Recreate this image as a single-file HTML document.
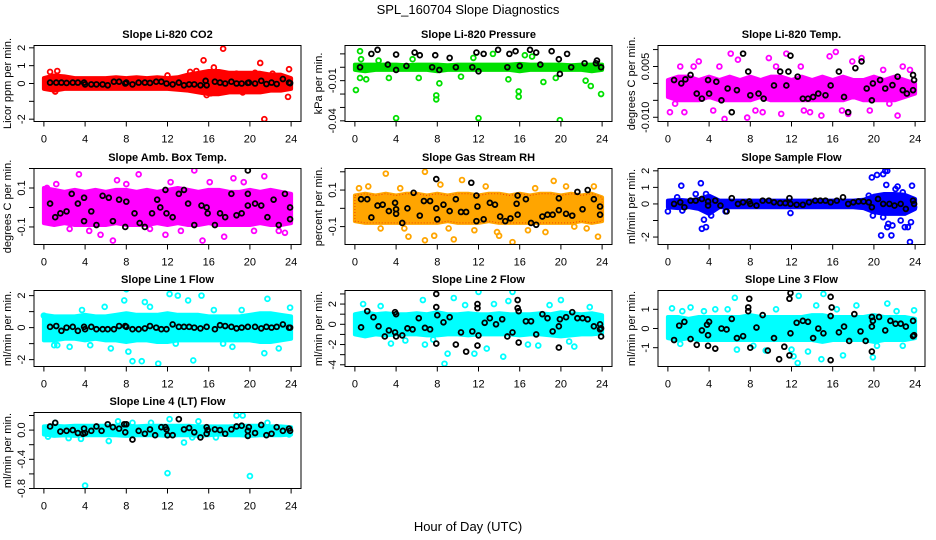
<!DOCTYPE html>
<html><head><meta charset="utf-8">
<style>
html,body{margin:0;padding:0;background:#fff;}
svg{display:block;font-family:"Liberation Sans",Arial,sans-serif;}
</style></head>
<body>
<svg id="chart" width="936" height="540" viewBox="0 0 936 540">
<text x="468" y="14" text-anchor="middle" font-size="13">SPL_160704  Slope Diagnostics</text>
<text x="468" y="531" text-anchor="middle" font-size="13">Hour of Day (UTC)</text>
</svg>
<script>
// ---------- data ----------
const hours = [0,1,2,3,4,5,6,7,8,9,10,11,12,13,14,15,16,17,18,19,20,21,22,23,24];
const xTicks = [0,4,8,12,16,20,24];

// P1 CO2
const co2BandHi = [0.3,0.45,0.4,0.3,0.3,0.3,0.3,0.35,0.3,0.35,0.3,0.35,0.3,0.35,0.5,0.6,0.7,0.7,0.6,0.6,0.6,0.6,0.5,0.5,0.3];
const co2BandLo = [-0.3,-0.4,-0.3,-0.3,-0.3,-0.3,-0.3,-0.3,-0.3,-0.3,-0.3,-0.3,-0.3,-0.35,-0.4,-0.5,-0.6,-0.6,-0.5,-0.5,-0.5,-0.5,-0.4,-0.4,-0.3];
const co2OutX = [0.6,1.3,15.5,16.5,17.4,21,21.4,23.8,23.7,15.8,1.1,12,14.2,14.8,18.7,20.5,22.2,16.2,19.3];
const co2OutY = [0.65,0.7,1.3,0.9,1.95,1.15,-2,0.8,-0.75,-0.65,-0.45,0.45,0.65,0.7,0.55,0.6,0.55,-0.55,-0.5];
const co2BlkX = [0.6,1.2,1.7,2.2,2.8,3.3,3.9,4,4.6,5.1,5.7,6.2,6.8,7.3,7.9,8,8.6,9.2,9.8,10.3,10.9,11.4,11.9,12.5,13.1,13.6,14.1,14.6,15.2,15.7,15.8,16.6,17.1,17.6,18.2,18.7,19.2,19.8,19.9,20.5,21.1,21.6,22.1,22.6,23.2,23.8,23.9];
const co2BlkY = [0.05,0.05,0.05,0.03,0.05,0.05,0.05,-0.05,-0.05,-0.05,-0.05,-0.1,0.1,0.1,0,0.05,-0.05,0.05,0.05,0.03,0.1,0.1,0,-0.05,0.05,-0.1,-0.05,-0.05,-0.1,0.15,-0.1,0.1,0.05,0,0.1,0,0,0.03,0.05,0,0.15,-0.03,0.05,-0.03,0.25,0.05,0.02];

// P2 Pressure
const prsBandHi = [0.002,0.002,0.002,0.002,0.002,0.0015,0.002,0.002,0.002,0.0015,0.002,0.002,0.002,0.002,0.002,0.002,0.0025,0.002,0.002,0.002,0.002,0.0015,0.002,0.002,0.002];
const prsBandLo = [-0.002,-0.003,-0.002,-0.002,-0.002,-0.002,-0.002,-0.002,-0.003,-0.002,-0.002,-0.002,-0.002,-0.002,-0.002,-0.002,-0.003,-0.002,-0.002,-0.002,-0.002,-0.002,-0.002,-0.003,-0.002];
const prsOutX = [0.1,0.5,4,7.9,7.9,12,15.9,15.9,19.9,22.9,23.9,0.5,8.2,18.3,13.4,16.5,1.1,3.3,6.2,10.3,14.9,19.5,22.4,0.6,2.3,5.6,11.5,17.2];
const prsOutY = [-0.017,0.012,-0.038,-0.021,-0.024,-0.038,-0.018,-0.022,-0.0395,-0.014,-0.02,-0.008,-0.012,-0.011,0.01,0.009,-0.009,-0.008,-0.008,-0.007,-0.009,-0.008,-0.01,0.006,0.005,0.006,0.007,0.008];
const prsBlkX = [1.6,2.2,4,5.8,6.3,7.8,9.2,11.8,12.5,13.9,15,15.6,17,17.6,19.1,19.8,20.6,23.5,0.5,3.2,4,5,7.5,8.2,9.8,11.4,12,14.8,16,18,19.9,21,22.3,23.4,23.9];
const prsBlkY = [0.01,0.013,0.0095,0.011,0.009,0.009,0.007,0.011,0.01,0.013,0.01,0.012,0.013,0.011,0.012,0.006,0.01,0.005,0,0.002,-0.002,0.001,0,-0.002,0,0,-0.003,0,0.001,0.002,-0.005,0,0.003,0.003,0];

// P3 Li-820 Temp
const tmpBandHi = [0.001,0.002,0.002,0.001,0.002,0.001,0.002,0.001,0.002,0.001,0.002,0.002,0.001,0.002,0.001,0.002,0.001,0.002,0.001,0.001,0.002,0.001,0.002,0.001,0.0];
const tmpBandLo = [-0.004,-0.005,-0.005,-0.005,-0.004,-0.005,-0.005,-0.005,-0.005,-0.004,-0.005,-0.005,-0.005,-0.005,-0.005,-0.005,-0.005,-0.005,-0.004,-0.005,-0.005,-0.005,-0.005,-0.004,-0.003];
const tmpOutX = [0.2,1.6,3,5.5,6.1,7.7,9.8,11.5,16.3,18.8,14.9,22.3,17.5,1.2,2.5,4.4,6.8,8.5,10.5,12.9,13.8,15.7,17.9,19.6,20.9,22.8,23.5,0.7,5,9.2,11,13.2,16.9,21.5];
const tmpOutY = [-0.0085,-0.0085,0.0065,-0.0105,0.0088,-0.0101,0.0075,0.0088,0.0093,0.0075,-0.0095,-0.0095,-0.009,0.005,0.005,-0.008,0.007,-0.008,0.005,0.005,-0.0085,0.008,0.0065,-0.008,0.004,0.005,0.004,-0.006,0.005,-0.0085,-0.009,-0.008,-0.008,-0.006];
const tmpBlkX = [0.6,1.3,1.7,2.2,2.8,3.3,3.9,4,4.7,5.2,5.8,6.2,6.7,7.3,7.8,8,8.8,9.3,10.3,10.9,11.5,11.7,11.9,12.6,13.1,13.6,14.1,14.6,15.3,15.8,16.6,17.1,17.5,18.2,18.8,19.3,19.8,19.9,20.6,21.1,21.8,22.3,22.8,23.2,23.8,23.9,23.8];
const tmpBlkY = [0.001,0,0.0012,0.0025,-0.003,-0.0045,0.001,-0.003,0.0005,-0.005,-0.0015,-0.0085,-0.002,0.0088,0.0035,-0.0035,-0.003,-0.0045,-0.0006,0.0035,-0.0006,0.0035,0.0082,0.002,-0.0045,-0.0045,-0.004,-0.003,-0.0035,-0.0006,0.0035,-0.004,-0.0085,0.0045,0.0065,-0.0015,-0.005,0,0.001,-0.0015,-0.0005,0.002,-0.002,-0.003,0.0025,0.001,-0.002];

// P4 Amb box temp
const ambBandHi = [0.1,0.09,0.08,0.09,0.08,0.09,0.08,0.09,0.09,0.08,0.09,0.08,0.09,0.1,0.09,0.08,0.09,0.09,0.08,0.08,0.09,0.08,0.09,0.08,0.07];
const ambBandLo = [-0.08,-0.09,-0.08,-0.09,-0.09,-0.09,-0.09,-0.08,-0.09,-0.09,-0.09,-0.08,-0.09,-0.08,-0.09,-0.09,-0.08,-0.09,-0.09,-0.09,-0.09,-0.08,-0.09,-0.09,-0.08];
const ambOutX = [3.4,9.2,14.6,15.4,6.7,17.5,5.5,21.4,0.3,1.2,4.4,8,10.3,12.3,13.3,16.1,18.4,20.4,22.8,7.1,11.8,19.4,2.5,23.4];
const ambOutY = [0.17,0.17,0.19,-0.17,-0.17,-0.15,-0.14,0.16,0.1,0.12,-0.12,0.12,-0.11,0.13,-0.12,0.13,0.15,-0.12,-0.12,0.14,-0.14,0.13,-0.11,-0.13];
const ambBlkX = [0.6,1.1,1.6,2.2,2.7,3.3,3.9,3.9,4.6,5.1,5.7,6.3,6.7,7.3,7.9,8,8.8,9.3,9.8,10.5,11,11.3,11.8,11.9,12.5,13.1,13.6,14,14.6,15.3,15.8,15.9,16.6,17.1,17.6,18.2,18.7,19.2,19.8,19.8,19.8,20.5,21.1,21.7,22.3,22.8,23.4,23.9,23.9];
const ambBlkY = [0.02,-0.05,-0.03,-0.02,0.07,0.02,-0.07,0.05,-0.02,-0.09,0.06,0.05,-0.07,0.04,-0.1,0.03,-0.03,-0.08,-0.1,-0.03,0.04,0,0.09,-0.03,-0.05,0.07,0.09,0.02,-0.09,0.01,0,-0.03,-0.09,-0.03,-0.05,0.07,-0.04,-0.03,0.07,0.01,0.19,0.02,0.01,-0.05,0.04,-0.09,0.07,-0.06,0];

// P5 Gas stream RH
const rhBandHi = [0.07,0.08,0.07,0.08,0.07,0.08,0.08,0.07,0.08,0.07,0.08,0.08,0.07,0.08,0.08,0.07,0.08,0.07,0.08,0.08,0.07,0.08,0.07,0.08,0.06];
const rhBandLo = [-0.07,-0.08,-0.08,-0.08,-0.08,-0.08,-0.08,-0.08,-0.08,-0.07,-0.08,-0.08,-0.08,-0.07,-0.08,-0.08,-0.08,-0.08,-0.08,-0.08,-0.08,-0.08,-0.07,-0.08,-0.07];
const rhOutX = [0.4,3,6.8,10.4,5.2,6.8,9.6,14,15.3,23.6,17.5,19.3,1.3,2.5,4.4,8.3,11.6,12.7,13.8,16.8,18.5,20.5,22.5,23.2,21.3,7.7,9.1,4.8];
const rhOutY = [0.11,0.19,0.2,0.155,-0.155,-0.175,-0.17,-0.15,-0.185,-0.155,0.11,0.15,0.12,-0.11,0.11,0.13,-0.12,0.12,-0.13,-0.12,-0.13,0.12,-0.11,0.12,-0.1,-0.15,-0.11,-0.11];
const rhBlkX = [0.6,1.2,1.6,2.2,2.7,3.3,3.9,4,4,4.6,5.1,5.7,6.3,6.7,7.3,7.9,8,8.6,9.2,9.8,10.3,10.8,11.3,11.8,11.9,11.8,12.5,13.1,13.6,14.1,14.6,15.1,15.7,15.8,15.8,16.6,17.1,17.6,18.2,18.7,19.2,19.8,19.8,20.5,21.1,21.6,22.1,22.6,23.2,23.8,23.8,7.9];
const rhBlkY = [0.05,0.05,-0.05,0.015,0.02,-0.015,0.03,-0.005,-0.03,-0.08,0,0.085,-0.04,0.04,0.04,0,-0.06,0.02,-0.015,0.05,-0.02,-0.02,0.14,-0.07,0.01,0.07,-0.06,0.03,0.02,-0.045,-0.07,-0.055,0.025,-0.035,0.07,0.05,-0.08,-0.09,-0.045,-0.035,-0.035,-0.01,0.055,-0.03,-0.04,0.09,-0.005,0.1,0.05,0.01,-0.035,0.16];

// P6 Sample flow
const sfBandHi = [0.2,0.25,0.2,0.3,0.5,0.2,0.2,0.2,0.2,0.2,0.2,0.2,0.2,0.2,0.2,0.2,0.2,0.2,0.2,0.25,0.5,0.6,0.6,0.55,0.3];
const sfBandLo = [-0.2,-0.25,-0.2,-0.3,-0.6,-0.2,-0.2,-0.2,-0.2,-0.2,-0.2,-0.2,-0.2,-0.2,-0.2,-0.2,-0.2,-0.2,-0.2,-0.25,-0.5,-0.6,-0.6,-0.6,-0.3];
const sfOutX = [0,1.3,3.2,3.3,3.5,3.7,2.7,3.7,5.6,11.9,19.5,19.8,20.3,20.7,20.9,21.1,21.3,21.2,21.7,21.3,21.4,22.1,22.6,23,23.3,23.6,23.5,23.7,19.9,21.8,22.3,4.2,20.9,0.9,1.4,4,22.8,23.9];
const sfOutY = [-0.45,1.1,1.25,-1.5,-0.95,-1.4,0.6,0.6,-0.45,-0.55,0.5,1.6,1.75,-1.9,1.8,2.0,2.0,1.15,-1.9,-1.4,-1.2,0.9,-1,-1.4,-1.4,-1.1,-2.3,1.1,-0.7,-1.3,1.05,-0.7,-0.8,0.4,-0.4,-0.5,0.7,-0.2];
const sfBlkX = [0.6,1.2,1.6,2.2,2.7,3.3,3.9,3.9,4.6,5.1,5.7,6.2,6.8,7.3,7.9,8,8.6,9.2,9.8,10.3,10.9,11.4,11.8,11.9,12.5,13.1,13.7,14.3,14.8,15.3,15.8,16.4,17,17.5,18,18.5,19,19.5,19.8,20.4,20.9,21.5,22,22.6,23.1,23.8,23.9];
const sfBlkY = [0,0.1,-0.2,0.2,0.2,0.3,0.15,-0.1,0.2,-0.1,-0.45,0.35,0,0.1,0.15,0,-0.1,0.2,0.2,0.1,0.05,0.05,0.35,0,-0.05,-0.05,0.1,0.2,0.2,0.2,0.1,0.2,0.4,0,0.1,0.15,0.15,0.1,-0.2,0.3,0,0,-0.1,0,-0.3,0.2,0];

// P7 Line 1 flow
const l1BandHi = [0.8,0.7,0.7,0.7,0.8,0.7,0.7,0.8,0.9,0.8,0.8,0.8,0.9,0.8,0.8,0.8,0.7,0.7,0.7,0.7,0.8,0.9,0.9,0.8,0.7];
const l1BandLo = [-0.8,-0.8,-0.7,-0.7,-0.8,-0.7,-0.8,-0.8,-0.9,-0.8,-0.8,-0.9,-0.9,-0.8,-0.8,-0.8,-0.8,-0.8,-0.8,-0.8,-0.8,-0.9,-0.9,-0.8,-0.7];
const l1OutX = [0,1,1.3,3.7,4.5,7.8,8,8.2,8.6,9.5,11.1,12.2,12.8,13,14,15.3,14.5,21.4,21.7,23.9,10.3,17.4,9.8,5.9,2.5,6.5,16.5,19.2,22.8,18.3];
const l1OutY = [0.75,-1.1,-1.1,1.1,-1.1,1.7,2.4,-1.5,-2.1,-2.1,-2.25,2.1,-1,2,1.7,2,-2.05,-1.6,1.8,1.25,1.3,-1,1.6,1.3,-1.2,-1.3,1.1,1.1,-1.3,-1.2];
const l1BlkX = [0.6,1.2,1.7,2.2,2.8,3.3,3.9,4,4.6,5.1,5.7,6.2,6.8,7.3,7.9,8,8.6,9.2,9.8,10.3,10.9,11.4,11.9,12.5,13.1,13.6,14.1,14.6,15.2,15.8,16.6,17.1,17.6,18.2,18.7,19.2,19.8,20.5,21.1,21.6,22.1,22.6,23.2,23.8,23.9];
const l1BlkY = [0.05,0.1,-0.2,0,0.05,-0.2,0.05,-0.1,0.05,-0.1,-0.1,-0.1,-0.1,0.1,0.1,0.05,-0.1,-0.1,-0.05,0.1,0,-0.1,-0.1,0.2,0.05,0.05,0.05,0,-0.05,0.05,-0.1,0.15,0.1,0.05,-0.05,0,0.05,0.05,-0.05,0.05,0,0.05,0.2,0,0];

// P8 Line 2 flow
const l2BandHi = [1.0,1.2,1.0,1.1,1.0,1.0,1.1,1.0,1.2,1.0,1.0,1.1,1.0,1.0,1.1,1.0,1.0,1.0,1.1,1.0,1.2,1.1,1.0,1.1,0.9];
const l2BandLo = [-1.0,-1.2,-1.0,-1.1,-1.0,-1.0,-1.0,-1.1,-1.1,-1.0,-1.0,-1.1,-1.0,-1.0,-1.0,-1.0,-1.1,-1.0,-1.0,-1.1,-1.2,-1.1,-1.0,-1.0,-0.9];
const l2OutX = [0.4,0.8,9,8.7,11.6,12,13.5,14.4,15.3,12.8,6.6,7.6,14.9,17.8,20,21.3,22.8,20.8,9.6,2.5,4.9,10.7,16.8,18.9,3.5,6.8];
const l2OutY = [-0.9,2,-2.9,-3.9,-2.9,3.2,2,-3.2,3.2,-2.4,2.4,-1.5,2.3,-2.1,2.4,-2.2,1.7,-1.7,2.6,1.8,-1.6,1.9,-2.0,1.9,-1.9,-2.0];
const l2BlkX = [0.6,1.2,1.8,2.3,2.9,3.3,3.9,3.9,4,4,4.6,5.1,5.6,6.2,6.8,7.3,7.9,7.9,8,7.9,8.6,9.2,9.8,10.3,10.8,11.4,11.9,11.9,12,11.9,12.6,13.1,13.7,14.3,14.8,15.3,15.8,15.8,15.9,15.9,16.6,17.1,17.6,18.2,18.7,19.2,19.8,19.9,19.8,20.5,21.1,21.6,22.1,22.6,23.2,23.8,23.8,23.9,23.9];
const l2BlkY = [-0.3,1.3,0.7,-0.2,-1.2,-0.6,1.2,-0.8,1,-1.2,-1.1,-0.4,-0.5,0.6,-0.35,-0.5,1.7,3,0.9,-1.9,0.2,0.7,-2,-0.8,-2.7,-0.7,2,1.6,-1.1,-2.1,0.15,0.6,0,0.5,-1.2,-0.8,2.4,1.6,1.3,-1.8,0.3,0.3,-1,1,0.6,-0.7,-2.3,0.5,-0.2,0.7,1.2,0.6,0.6,0.5,-0.2,0,-0.5,-1.2,-0.4];

// P9 Line 3 flow
const l3BandHi = [0.6,0.6,0.5,0.6,0.6,0.6,0.6,0.6,0.7,0.6,0.6,0.6,0.6,0.6,0.7,0.7,0.6,0.6,0.6,0.6,0.7,0.6,0.6,0.6,0.5];
const l3BandLo = [-0.5,-0.6,-0.5,-0.6,-0.6,-0.6,-0.6,-0.6,-0.6,-0.6,-0.6,-0.6,-0.6,-0.6,-0.6,-0.7,-0.6,-0.6,-0.6,-0.6,-0.7,-0.6,-0.6,-0.6,-0.5];
const l3OutX = [0.4,1.4,2.2,6.5,6.7,9.5,12,12.2,12.6,12.7,14.4,14.9,15.1,17,18.3,19.9,21.3,22.8,23.9,13.6,3.5,4.6,8.3,10.5,16.4,20.3,22.2,1.2,5.8];
const l3OutY = [1.05,0.9,1.1,1.6,-1.1,-1.15,-1.1,-1.45,-1.8,1.7,1.2,-1.6,1.8,-1.4,1.2,-1.5,1.3,-0.9,0.95,-1.2,0.9,1.0,-0.9,1.0,1.0,-0.9,0.9,-0.8,1.0];
const l3BlkX = [0.6,1.1,1.6,2.2,2.8,3.3,3.8,3.9,4,3.9,4.6,5.2,5.7,6.2,6.7,7.3,7.9,7.8,7.8,8,8.6,9.2,9.7,10.3,10.8,11.3,11.9,11.8,11.9,11.8,12.5,13.1,13.6,14.1,14.6,15.1,15.8,15.9,15.8,15.8,16.6,17.1,17.6,18.1,18.7,19.2,19.8,19.8,19.8,19.9,20.5,21.1,21.6,22.1,22.6,23.1,23.8,23.8,23.9];
const l3BlkY = [-0.6,0.15,0.35,-0.55,-0.85,-0.1,0.2,-0.35,0.35,-0.9,-1.05,0,-0.05,0.5,-0.5,-0.4,1.55,1.1,0.9,-1,0.05,0.7,-1.15,-0.5,-1.6,-0.95,1.85,1.55,-0.25,-1.4,0.3,0.4,0.35,-0.5,0,-0.25,1.65,1.1,0.65,-1.65,-0.2,0.1,-0.65,0.75,-0.15,-0.65,0.6,0.1,-1.2,0.4,0.6,-0.1,0.4,0.25,0.25,0.1,0.4,-0.4,-0.35];

// P10 Line 4 (LT) flow
const l4BandHi = [0.05,0.06,0.05,0.06,0.06,0.06,0.06,0.06,0.06,0.05,0.06,0.06,0.06,0.06,0.06,0.05,0.05,0.05,0.05,0.06,0.06,0.06,0.05,0.05,0.04];
const l4BandLo = [-0.06,-0.08,-0.07,-0.08,-0.07,-0.07,-0.07,-0.07,-0.08,-0.07,-0.07,-0.07,-0.08,-0.07,-0.07,-0.08,-0.07,-0.06,-0.07,-0.07,-0.08,-0.07,-0.07,-0.07,-0.06];
const l4OutX = [4,12,20,13.6,6.3,18.7,19.3,12.2,1.1,15,3.6,0.4,2.4,8.6,10.4,16.7,21.7,23.8,7.2,14.4];
const l4OutY = [-0.76,-0.59,-0.63,-0.17,-0.15,0.2,0.2,0.15,0.1,0.12,-0.12,-0.09,-0.11,0.1,0.1,-0.1,0.1,-0.06,0.12,-0.1];
const l4BlkX = [0.6,1.1,1.6,2.2,2.8,3.3,3.8,3.9,4,4.6,5.1,5.6,6.2,6.7,7.3,7.8,7.9,8,8.6,9.2,9.8,10.3,10.8,11.4,11.8,11.9,12,12.5,13.1,13.6,14.1,14.6,15.2,15.8,15.8,15.9,16.6,17.1,17.6,18.2,18.7,19.2,19.8,19.8,19.9,20.5,21.1,21.6,22.1,22.6,23.2,23.8,23.9];
const l4BlkY = [0.05,0.1,-0.02,-0.01,0,-0.04,-0.05,0.02,-0.04,-0.01,0.05,-0.01,0.08,0.04,0.02,0.08,-0.03,0.08,-0.13,-0.01,-0.05,0.01,-0.07,0.04,0.04,0.01,-0.07,-0.07,0.15,0.01,0.03,-0.03,-0.1,0.04,-0.05,0,0.01,0,-0.05,0.01,0.05,0.06,-0.08,-0.01,0.04,-0.04,0.07,-0.07,-0.05,0.04,-0.01,0.02,-0.01];

// ---------- layout ----------
const NS = "http://www.w3.org/2000/svg";
const svg = document.getElementById('chart');
function mk(tag, attrs, parent){ const e=document.createElementNS(NS,tag); for(const k in attrs) e.setAttribute(k,attrs[k]); (parent||svg).appendChild(e); return e; }

const colLeft = [34, 345, 658];
const rowTitle = [34, 157, 279, 401];
const BOXW = 267, BOXH = 76;

const panels = [
 {key:'co2', title:'Slope Li-820 CO2', ylab:'Licor ppm per min.', r:0,c:0, ylim:[-2.13,2.13], ticks:[-2,-1,0,1,2], labels:['-2','','0','1','2'], color:'#ff0000', hi:co2BandHi, lo:co2BandLo, ox:co2OutX, oy:co2OutY, bx:co2BlkX, by:co2BlkY},
 {key:'pressure', title:'Slope Li-820 Pressure', ylab:'kPa per min.', r:0,c:1, ylim:[-0.0405,0.01625], ticks:[-0.04,-0.03,-0.02,-0.01,0,0.01], labels:['-0.04','','','-0.01','',''], color:'#00e000', hi:prsBandHi, lo:prsBandLo, ox:prsOutX, oy:prsOutY, bx:prsBlkX, by:prsBlkY},
 {key:'li820-temp', title:'Slope Li-820 Temp.', ylab:'degrees C per min.', r:0,c:2, ylim:[-0.01125,0.0112], ticks:[-0.01,-0.005,0,0.005,0.01], labels:['-0.010','','','0.005',''], color:'#ff00ff', hi:tmpBandHi, lo:tmpBandLo, ox:tmpOutX, oy:tmpOutY, bx:tmpBlkX, by:tmpBlkY},
 {key:'amb-box-temp', title:'Slope Amb. Box Temp.', ylab:'degrees C per min.', r:1,c:0, ylim:[-0.19,0.2], ticks:[-0.1,0,0.1,0.2], labels:['-0.1','','0.1',''], color:'#ff00ff', hi:ambBandHi, lo:ambBandLo, ox:ambOutX, oy:ambOutY, bx:ambBlkX, by:ambBlkY},
 {key:'gas-stream-rh', title:'Slope Gas Stream RH', ylab:'percent per min.', r:1,c:1, ylim:[-0.198,0.218], ticks:[-0.1,0,0.1,0.2], labels:['-0.1','','0.1',''], color:'#ffa500', hi:rhBandHi, lo:rhBandLo, ox:rhOutX, oy:rhOutY, bx:rhBlkX, by:rhBlkY},
 {key:'sample-flow', title:'Slope Sample Flow', ylab:'ml/min per min.', r:1,c:2, ylim:[-2.45,2.14], ticks:[-2,-1,0,1,2], labels:['-2','','0','1','2'], color:'#0000ff', hi:sfBandHi, lo:sfBandLo, ox:sfOutX, oy:sfOutY, bx:sfBlkX, by:sfBlkY},
 {key:'line1-flow', title:'Slope Line 1 Flow', ylab:'ml/min per min.', r:2,c:0, ylim:[-2.43,2.32], ticks:[-2,-1,0,1,2], labels:['-2','','0','','2'], color:'#00ffff', hi:l1BandHi, lo:l1BandLo, ox:l1OutX, oy:l1OutY, bx:l1BlkX, by:l1BlkY},
 {key:'line2-flow', title:'Slope Line 2 Flow', ylab:'ml/min per min.', r:2,c:1, ylim:[-4.17,3.34], ticks:[-4,-3,-2,-1,0,1,2,3], labels:['-4','','-2','','0','','2',''], color:'#00ffff', hi:l2BandHi, lo:l2BandLo, ox:l2OutX, oy:l2OutY, bx:l2BlkX, by:l2BlkY},
 {key:'line3-flow', title:'Slope Line 3 Flow', ylab:'ml/min per min.', r:2,c:2, ylim:[-1.98,1.98], ticks:[-1,0,1], labels:['-1','0','1'], color:'#00ffff', hi:l3BandHi, lo:l3BandLo, ox:l3OutX, oy:l3OutY, bx:l3BlkX, by:l3BlkY},
 {key:'line4-flow', title:'Slope Line 4 (LT) Flow', ylab:'ml/min per min.', r:3,c:0, ylim:[-0.8,0.241], ticks:[-0.8,-0.6,-0.4,-0.2,0,0.2], labels:['-0.8','','-0.4','','0.0',''], color:'#00ffff', hi:l4BandHi, lo:l4BandLo, ox:l4OutX, oy:l4OutY, bx:l4BlkX, by:l4BlkY}
];

panels.forEach(p=>{
  const L = colLeft[p.c], T = rowTitle[p.r] + 11.5, W = BOXW, H = BOXH;
  const xs = h => L + (h + 0.96) / 25.92 * W;
  const ys = v => T + (p.ylim[1] - v) / (p.ylim[1] - p.ylim[0]) * H;
  const g = mk('g', {});
  
  

  const t = mk('text', {x: L + W/2, y: rowTitle[p.r] + 4, 'text-anchor':'middle', 'font-size':'11', 'font-weight':'bold'}, g);
  t.textContent = p.title;
  
  

  const clip = mk('clipPath', {id:'clip-'+p.key}, g);
  mk('rect', {x:L, y:T, width:W, height:H}, clip);
  const plot = mk('g', {'clip-path':'url(#clip-'+p.key+')'}, g);

  let d = '';
  hours.forEach((h,i)=>{ d += (i?'L':'M') + xs(h).toFixed(1) + ',' + ys(p.hi[i]).toFixed(1); });
  for(let i=hours.length-1;i>=0;i--) d += 'L' + xs(hours[i]).toFixed(1) + ',' + ys(p.lo[i]).toFixed(1);
  const band = mk('path', {d: d+'Z', fill:p.color, stroke:p.color, 'stroke-width':'4', 'stroke-linejoin':'round'}, plot);
  
  
  if(p.key==='gas-stream-rh'){
    const b2 = mk('path', {d: d+'Z', fill:'none', stroke:'#e60000', 'stroke-width':'1', 'stroke-dasharray':'1 2', opacity:'0.6'}, plot);
    
    
  }
  p.ox.forEach((h,i)=>{
    const c = mk('circle', {cx:xs(h), cy:ys(p.oy[i]), r:2.4, fill:'none', stroke:p.color, 'stroke-width':'1.8'}, plot);
    
    
  });
  p.bx.forEach((h,i)=>{
    const c = mk('circle', {cx:xs(h), cy:ys(p.by[i]), r:2.4, fill:'none', stroke:'#000', 'stroke-width':'1.8'}, plot);
    
    
  });

  const box = mk('rect', {x:L, y:T, width:W, height:H, fill:'none', stroke:'#000', 'stroke-width':'1'}, g);
  
  

  xTicks.forEach(h=>{
    const x = xs(h);
    mk('line', {x1:x, x2:x, y1:T+H, y2:T+H+5, stroke:'#000'}, g);
    const lb = mk('text', {x:x, y:T+H+21, 'text-anchor':'middle', 'font-size':'11'}, g);
    lb.textContent = h;
    
    
  });

  p.ticks.forEach((v,i)=>{
    const y = ys(v);
    mk('line', {x1:L-5, x2:L, y1:y, y2:y, stroke:'#000'}, g);
    if(p.labels[i]){
      const lb = mk('text', {x:0, y:0, 'text-anchor':'middle', 'font-size':'11', transform:'translate('+(L-9)+','+y+') rotate(-90)'}, g);
      lb.textContent = p.labels[i];
      
      
    }
  });
  const yl = mk('text', {x:0, y:0, 'text-anchor':'middle', 'font-size':'11', transform:'translate('+(L-23)+','+(T+H/2)+') rotate(-90)'}, g);
  yl.textContent = p.ylab;
  
  
});
</script>
</body></html>
